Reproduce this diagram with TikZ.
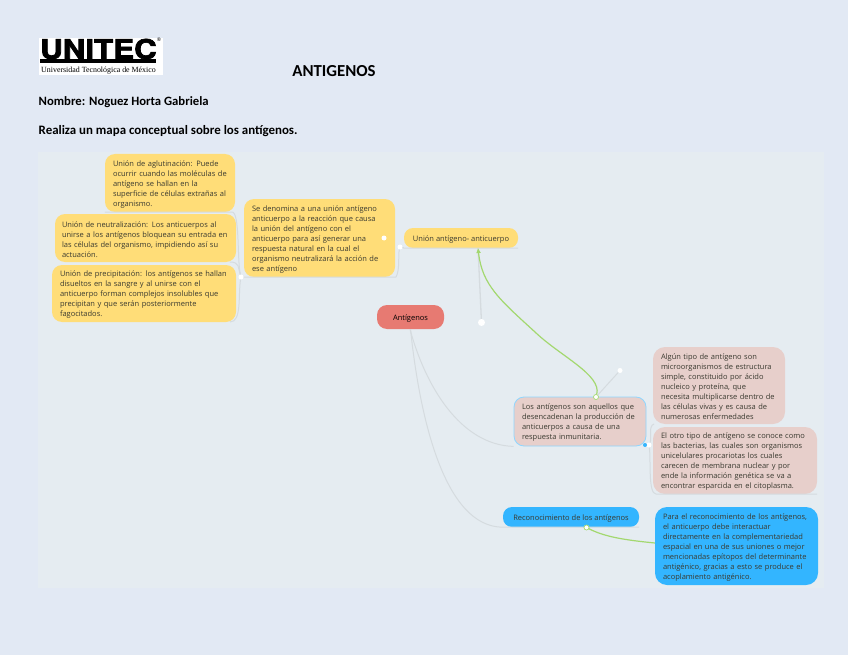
\documentclass[tikz,border=0pt]{standalone}
\usepackage{fontspec}
\setmainfont{Open Sans}
\newfontfamily\headfont{Carlito}
\newfontfamily\logofont[RawFeature={embolden=2.5}]{TeX Gyre Heros}
\newfontfamily\serifsm{Liberation Serif}
\usetikzlibrary{calc,arrows.meta}
\definecolor{pagebg}{HTML}{E2E9F4}
\definecolor{mapbg}{HTML}{E5ECF1}
\definecolor{yl}{HTML}{FFDD78}
\definecolor{rosy}{HTML}{E7CFCB}
\definecolor{redn}{HTML}{E77A72}
\definecolor{blu}{HTML}{33B5FF}
\definecolor{grn}{HTML}{A3D86F}
\definecolor{lin}{HTML}{D5DBDF}
\definecolor{txt}{HTML}{3A3A30}
\tikzset{
 bx/.style={rounded corners=10pt,inner xsep=8pt,inner ysep=0pt,align=left,text=txt,font=\fontsize{7.5}{10}\selectfont,execute at begin node={\rule{0pt}{8.7pt}}},
 one/.style={rounded corners=9pt,inner sep=0pt,align=center,text=txt,font=\fontsize{7.5}{10}\selectfont,execute at begin node={\rule{0pt}{8.5pt}}},
 dot/.style={circle,fill=white,inner sep=0pt,minimum size=5pt},
 conn/.style={draw=lin,line width=1pt},
 grl/.style={draw=grn,line width=1.2pt},
 head/.style={inner sep=0pt,text=black,font=\headfont\bfseries\fontsize{12.9}{14}\selectfont},
}
\begin{document}
\begin{tikzpicture}[x=1pt,y=-1pt]
\useasboundingbox (0,0) rectangle (848,655);
\fill[pagebg] (0,0) rectangle (848,655);
\fill[mapbg] (38,152) rectangle (824,588);
% logo
\fill[white] (39,38) rectangle (163,75);
\node[inner sep=0pt,anchor=west] (logoname) at (40,49) {\scalebox{1.16}[1]{\logofont\bfseries\fontsize{27}{27}\selectfont UNITEC}};
\fill[black] (40,59) rectangle (156,63);
\node[inner sep=0pt,anchor=west] (logosub) at (41,71) {\serifsm\fontsize{7.9}{8}\selectfont Universidad Tecnológica de México};
\node[inner sep=0pt,anchor=center] (logoreg) at (159,40) {\fontsize{5}{5}\selectfont ®};
% heading
\node[head,anchor=center,font=\headfont\bfseries\fontsize{16.8}{18}\selectfont] (title) at (334,71) {ANTIGENOS};
\node[head,anchor=west,font=\headfont\bfseries\fontsize{12.7}{14}\selectfont] (name) at (38.5,102.5) {Nombre: Noguez Horta Gabriela};
\node[head,anchor=west] (task) at (38.5,131.5) {Realiza un mapa conceptual sobre los antígenos.};
% nodes
\node[bx,fill=yl,minimum width=130pt,text width=114pt,minimum height=58pt] (aglu) at (170,183) {Unión de aglutinación: Puede\\ocurrir cuando las moléculas de\\antígeno se hallan en la\\superficie de células extrañas al\\organismo.};
\node[bx,fill=yl,minimum width=181pt,text width=167pt,inner xsep=7pt,minimum height=48pt] (neut) at (145.5,238) {Unión de neutralización: Los anticuerpos al\\unirse a los antígenos bloquean su entrada en\\las células del organismo, impidiendo así su\\actuación.};
\node[bx,fill=yl,minimum width=184pt,text width=168pt,minimum height=57pt] (prec) at (144,293.5) {Unión de precipitación: los antígenos se hallan\\disueltos en la sangre y al unirse con el\\anticuerpo forman complejos insolubles que\\precipitan y que serán posteriormente\\fagocitados.};
\node[bx,fill=yl,minimum width=151pt,text width=135pt,minimum height=78pt] (defi) at (319.5,238) {Se denomina a una unión antígeno\\anticuerpo a la reacción que causa\\la unión del antígeno con el\\anticuerpo para así generar una\\respuesta natural en la cual el\\organismo neutralizará la acción de\\ese antígeno};
\node[one,fill=yl,minimum width=114pt,minimum height=20pt] (union) at (461,238) {Unión antígeno- anticuerpo};
\node[one,fill=redn,text=black,minimum width=67pt,minimum height=24pt,rounded corners=10pt] (root) at (410.5,317) {Antígenos};
\node[bx,fill=rosy,draw=blu!55!white,line width=0.8pt,minimum width=132pt,text width=116pt,minimum height=49pt] (los) at (580,421.5) {Los antígenos son aquellos que\\desencadenan la producción de\\anticuerpos a causa de una\\respuesta inmunitaria.};
\node[bx,fill=rosy,minimum width=132pt,text width=116pt,minimum height=77pt,rounded corners=12pt] (algun) at (719,385.5) {Algún tipo de antígeno son\\microorganismos de estructura\\simple, constituido por ácido\\nucleico y proteína, que\\necesita multiplicarse dentro de\\las células vivas y es causa de\\numerosas enfermedades};
\node[bx,fill=rosy,minimum width=164pt,text width=148pt,minimum height=67pt,rounded corners=12pt] (otro) at (735,460.5) {El otro tipo de antígeno se conoce como\\las bacterias, las cuales son organismos\\unicelulares procariotas los cuales\\carecen de membrana nuclear y por\\ende la información genética se va a\\encontrar esparcida en el citoplasma.};
\node[one,fill=blu,minimum width=136pt,minimum height=20pt] (recon) at (571,517) {Reconocimiento de los antígenos};
\node[bx,fill=blu,minimum width=163pt,text width=147pt,minimum height=78pt,rounded corners=12pt] (para) at (736.5,546) {Para el reconocimiento de los antígenos,\\el anticuerpo debe interactuar\\directamente en la complementariedad\\espacial en una de sus uniones o mejor\\mencionadas epítopos del determinante\\antigénico, gracias a esto se produce el\\acoplamiento antigénico.};
% helper points
\node[dot] (d1) at (241,277) {};
\node[dot] (d2) at (400,247) {};
\node[dot,minimum size=5pt] (d3) at (384,238) {};
\node[dot,minimum width=7pt,minimum height=5pt] (d4) at (481.5,322.5) {};
\node[dot] (d5) at (620,370.5) {};
\node[dot,minimum size=5pt] (d6) at (596,397) {};
\node[dot] (d7) at (649,445) {};
\node[circle,fill=blu,inner sep=0pt,minimum size=4pt] (d7b) at (645,445) {};
\node[dot,minimum size=5pt] (d8) at (586.5,527.5) {};
\coordinate (arrowtip) at (478,248);
% connectors
\draw[conn] (d1) .. controls (237,260) and (240,212) .. (232,212) -- (aglu.south west);
\draw[conn] (d1) .. controls (238,268) and (240,262) .. (230,262);
\draw[conn] (d1) .. controls (238,295) and (242,322) .. (230,322);
\draw[conn] (d1) -- (defi.south west) -- (defi.south east) -- (396,277) .. controls (400,270) and (398,255) .. (d2);
\draw[conn] (d2) .. controls (403,247) and (404,248) .. (union.south west) -- (union.south east);
\draw[conn,line width=1.3pt] (d4) -- (arrowtip);
\draw[conn] (d6) -- (d5);
\draw[conn] (root.south) ++(-0.5,0) .. controls (425,385) and (460,445) .. (los.south west);
\draw[conn] (root.south) .. controls (420,420) and (445,527) .. (recon.south west) -- (recon.south east);
\draw[conn] (d7) .. controls (652,438) and (648,426) .. (654,424);
\draw[conn] (d7) .. controls (651,460) and (648,494) .. (656,494) -- (otro.south east);
\draw[grl,-{Latex[length=5pt,width=5pt]}] (d6) .. controls (602,375) and (560,356) .. (535,332) .. controls (500,300) and (482,285) .. (arrowtip);
\draw[grl] ($(para.west)+(0,-3)$) .. controls (625,540) and (605,537) .. (d8);
\node[dot,minimum size=5pt,draw=grn,line width=0.7pt] at (d6) {};
\node[dot,minimum size=5pt,draw=grn,line width=0.7pt] at (d8) {};
\end{tikzpicture}
\end{document}
